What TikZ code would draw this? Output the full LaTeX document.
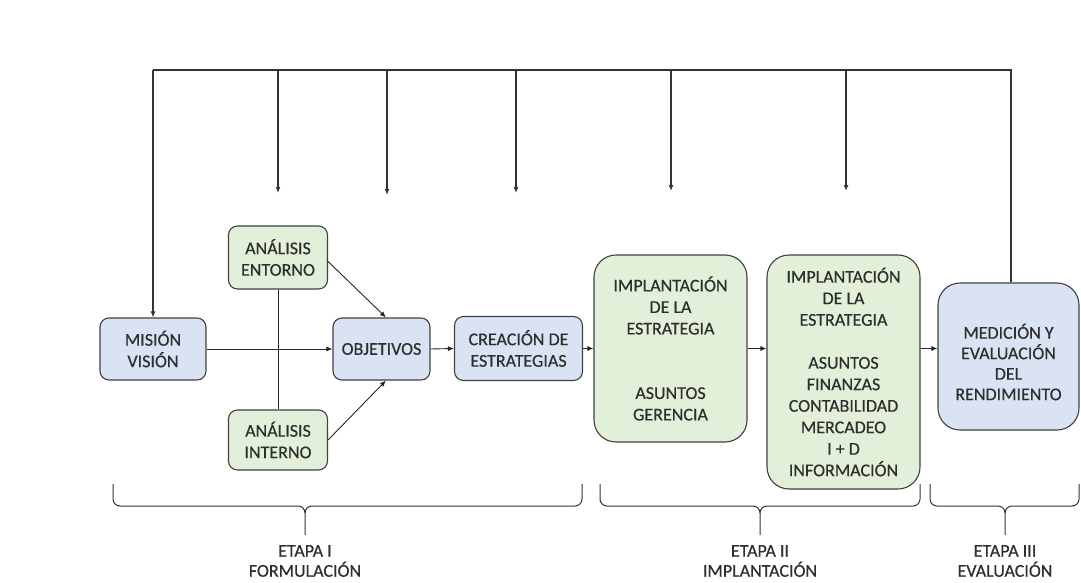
\documentclass[tikz,border=0pt]{standalone}
\usepackage{fontspec}
\setmainfont[FakeBold=0.45]{Carlito}
\usetikzlibrary{arrows.meta,calc}

\definecolor{boxblue}{HTML}{DAE3F3}
\definecolor{boxgreen}{HTML}{E2F0D9}
\definecolor{edge}{HTML}{404040}
\definecolor{ink}{HTML}{2E2E2E}

\tikzset{
  box/.style={draw=edge, line width=1.1pt, rounded corners=9pt, align=center,
    inner sep=0pt, text=ink, font=\fontsize{18}{21.5}\selectfont},
  bluebox/.style={box, fill=boxblue},
  greenbox/.style={box, fill=boxgreen},
  bigbox/.style={rounded corners=22pt},
  flow/.style={line width=0.9pt, draw=black!85, -{Latex[length=6pt,width=5pt]}},
  plain/.style={line width=0.9pt, draw=black!85},
  feedback/.style={line width=1.2pt, draw=black!80},
  bracestyle/.style={line width=1pt, draw=black!80},
  stagelabel/.style={align=center, text=ink, inner sep=0pt, font=\fontsize{18}{20}\selectfont}
}

% curly brace under a stage: left end, tip, right end (x positions)
\newcommand{\etapabrace}[3]{%
  \draw[bracestyle] (#1,484) -- (#1,499) to[out=-90,in=180] (#1+7,506)
    -- (#2-7,506) to[out=0,in=90] (#2,513) -- (#2,535);
  \draw[bracestyle] (#3,484) -- (#3,499) to[out=-90,in=0] (#3-7,506)
    -- (#2+7,506) to[out=180,in=90] (#2,513);
}

\begin{document}
\begin{tikzpicture}[x=1pt,y=-1pt]
\useasboundingbox[fill=white] (0,0) rectangle (1081,583);

% stage boxes
\node[bluebox, minimum width=106pt, minimum height=62pt] (mision) at (153,349) {MISIÓN\\VISIÓN};
\node[greenbox, minimum width=99pt, minimum height=63pt] (entorno) at (278,257.5) {ANÁLISIS\\ENTORNO};
\node[greenbox, minimum width=99pt, minimum height=60pt] (interno) at (278,440) {ANÁLISIS\\INTERNO};
\node[bluebox, minimum width=97pt, minimum height=62pt] (objetivos) at (381.5,349) {OBJETIVOS};
\node[bluebox, minimum width=128pt, minimum height=64pt] (creacion) at (518.5,348.5) {CREACIÓN DE\\ESTRATEGIAS};
\node[greenbox, bigbox, minimum width=153pt, minimum height=187pt] (impl1) at (670.5,348.5)
  {IMPLANTACIÓN\\DE LA\\ESTRATEGIA\\[43pt]ASUNTOS\\GERENCIA};
\node[greenbox, bigbox, minimum width=153pt, minimum height=234pt] (impl2) at (843.5,372)
  {IMPLANTACIÓN\\DE LA\\ESTRATEGIA\\[21.5pt]ASUNTOS\\FINANZAS\\CONTABILIDAD\\MERCADEO\\I + D\\INFORMACIÓN};
\node[bluebox, bigbox, minimum width=141pt, minimum height=147pt] (medicion) at (1008.5,356.5) {};
\node[text=ink, align=center, font=\fontsize{18}{20.5}\selectfont] (mediciontxt) at (1008.5,362)
  {MEDICIÓN Y\\EVALUACIÓN\\DEL\\RENDIMIENTO};

% main flow
\draw[plain] (entorno.south) -- (interno.north);
\draw[flow] ($(entorno.east)+(-1,3)$) -- (objetivos.82);
\draw[flow] (interno.east) -- (objetivos.-82);
\draw[flow] (mision.east) -- (objetivos.west);
\draw[flow] (objetivos.east) -- (creacion.west);
\draw[flow] (creacion.east) -- (creacion.east -| impl1.west);
\draw[flow] (creacion.east -| impl1.east) -- (creacion.east -| impl2.west);
\draw[flow] (creacion.east -| impl2.east) -- (creacion.east -| medicion.west);

% feedback from the evaluation back to every stage
\coordinate (fbleft) at (153,70);
\coordinate (fbright) at (1011,70);
\draw[feedback] (medicion.north -| fbright) -- (fbright) -- (fbleft);
\draw[feedback, -{Latex[length=6pt,width=5pt]}] (fbleft) -- (mision.north);
\foreach \x/\e [count=\i] in {278/193, 387/195, 516/193, 671/191, 846/191}{
  \coordinate (fbtop\i) at (\x,70);
  \coordinate (fbend\i) at (\x,\e);
  \draw[feedback, -{Latex[length=6pt,width=5pt]}] (fbtop\i) -- (fbend\i);
}

% stage braces and labels
\etapabrace{113}{305}{582}
\etapabrace{600}{760}{920}
\etapabrace{930}{1005}{1079}
\node[stagelabel] (etapa1) at (305,561) {ETAPA I\\FORMULACIÓN};
\node[stagelabel] (etapa2) at (760,561) {ETAPA II\\IMPLANTACIÓN};
\node[stagelabel] (etapa3) at (1005,561) {ETAPA III\\EVALUACIÓN};
\end{tikzpicture}
\end{document}
